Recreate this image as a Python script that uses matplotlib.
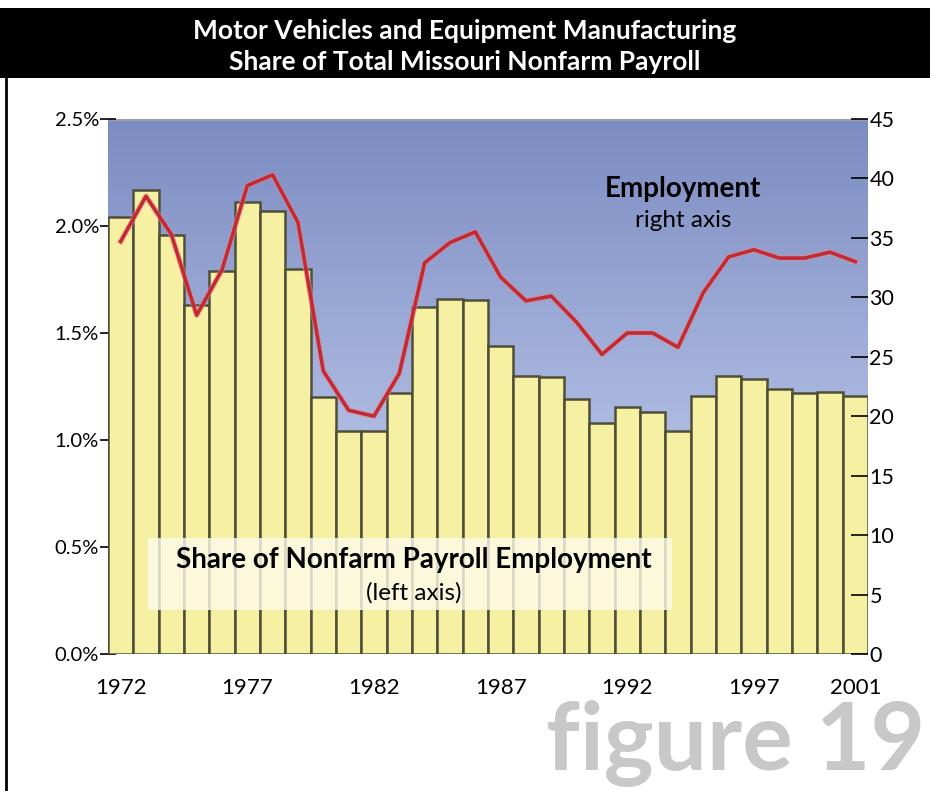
import numpy as np
import matplotlib
matplotlib.use("Agg")
import matplotlib.pyplot as plt
from matplotlib.colors import LinearSegmentedColormap
from matplotlib.patches import Rectangle
import matplotlib.patheffects as pe

plt.rcParams['font.family'] = ['Lato', 'DejaVu Sans']

years = list(range(1972, 2002))
share_pct = [2.04, 2.17, 1.96, 1.63, 1.79, 2.11, 2.07, 1.80, 1.20, 1.04,
             1.04, 1.22, 1.62, 1.66, 1.655, 1.44, 1.30, 1.295, 1.19, 1.08,
             1.155, 1.13, 1.04, 1.205, 1.30, 1.285, 1.24, 1.22, 1.225, 1.205]
employment = [34.7, 38.5, 35.3, 28.5, 32.3, 39.4, 40.3, 36.3, 23.8, 20.5,
              20.0, 23.6, 32.9, 34.6, 35.5, 31.7, 29.7, 30.1, 27.9, 25.2,
              27.0, 27.0, 25.8, 30.4, 33.4, 34.0, 33.3, 33.3, 33.8, 33.0]
left_ticks = [0.0, 0.5, 1.0, 1.5, 2.0, 2.5]
left_labels = ['0.0%', '0.5%', '1.0%', '1.5%', '2.0%', '2.5%']
right_ticks = [0, 5, 10, 15, 20, 25, 30, 35, 40, 45]
year_ticks = [1972, 1977, 1982, 1987, 1992, 1997, 2001]

fig = plt.figure(figsize=(9.3, 7.91), dpi=100)
fig.patch.set_facecolor('white')

# title band
fig.patches.append(Rectangle((0, 0.9014), 1, 0.0885, transform=fig.transFigure,
                             facecolor='black', edgecolor='none', zorder=0))
fig.text(0.5, 0.961, 'Motor Vehicles and Equipment Manufacturing', color='white',
         fontsize=19, fontweight='bold', ha='center', va='center')
fig.text(0.5, 0.922, 'Share of Total Missouri Nonfarm Payroll', color='white',
         fontsize=19, fontweight='bold', ha='center', va='center')
# left border
fig.add_artist(plt.Line2D([0.0065, 0.0065], [0, 0.9014], transform=fig.transFigure,
                          color='black', lw=2))

ax = fig.add_axes([0.1161, 0.1732, 0.8172, 0.6764])
x0, x1 = years[0] - 0.5, years[-1] + 0.5

cmap = LinearSegmentedColormap.from_list('bg', ['#7c8bc1', '#a6b4dd', '#d0d9f1'])
grad = np.linspace(0, 1, 256).reshape(-1, 1)
ax.imshow(grad, cmap=cmap, extent=[x0, x1, 0, 2.5], aspect='auto', zorder=0,
          origin='upper')
ax.axhline(2.5, color='#a0a0a8', lw=2, zorder=1)

ax.bar(years, share_pct, width=1.0, color='#f6f0a2', edgecolor='#4f4f38',
       linewidth=1.8, zorder=2)

ax.set_xlim(x0, x1)
ax.set_ylim(0, 2.5)
ax.set_yticks(left_ticks)
ax.set_yticklabels(left_labels)
ax.set_xticks(year_ticks)
ax.set_xticklabels([str(y) for y in year_ticks])
for s in ax.spines.values():
    s.set_visible(False)
ax.tick_params(axis='y', direction='inout', length=11, width=1.2, pad=1,
               labelsize=14.5, colors='black')
ax.tick_params(axis='x', length=0, pad=17, labelsize=16)

ax2 = ax.twinx()
ax2.set_ylim(0, 45)
ax2.set_yticks(right_ticks)
ax2.plot(years, employment, color='#c22a34', lw=2.6, zorder=5,
         path_effects=[pe.Stroke(linewidth=4.2, foreground='#e48b95', alpha=0.55),
                       pe.Normal()])
for s in ax2.spines.values():
    s.set_visible(False)
ax2.tick_params(axis='y', direction='in', length=12, width=1.2, pad=1,
                labelsize=15.5)

# annotation box
ax.add_patch(Rectangle((0.0526, 0.082), 0.69, 0.135, transform=ax.transAxes,
                       facecolor='#fdfbea', alpha=0.8, edgecolor='none', zorder=3))
ax.text(0.4026, 0.176, 'Share of Nonfarm Payroll Employment', transform=ax.transAxes,
        fontsize=20, fontweight='bold', ha='center', va='center', zorder=4)
ax.text(0.4026, 0.114, '(left axis)', transform=ax.transAxes,
        fontsize=17.5, ha='center', va='center', zorder=4)
ax2.text(0.757, 0.869, 'Employment', transform=ax.transAxes,
         fontsize=20, fontweight='bold', ha='center', va='center', zorder=6)
ax2.text(0.757, 0.810, 'right axis', transform=ax.transAxes,
         fontsize=17.5, ha='center', va='center', zorder=6)

fig.text(0.995, 0.0265, 'figure 19', color='#c8c8c8', fontsize=68,
         fontweight='bold', ha='right', va='baseline')

fig.savefig('out.png', dpi=100)
